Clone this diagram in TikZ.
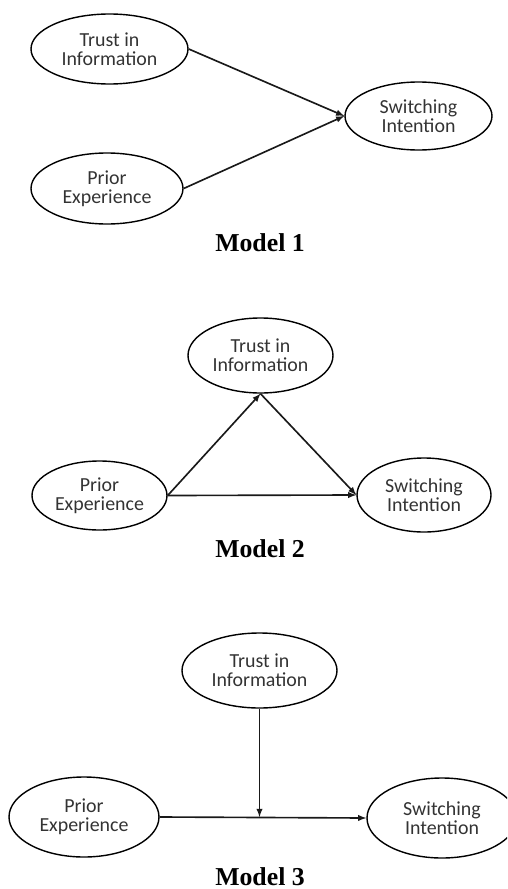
\documentclass[tikz,border=0pt]{standalone}
\usepackage{fontspec}
\setmainfont{Liberation Serif}
\newfontfamily\calibri{Carlito}
\usepackage{tikz}
\usetikzlibrary{shapes}

\tikzset{
	construct/.style={ellipse, draw=black!100, line width=1.2pt, inner sep=0pt, align=center, text=black!80, font=\calibri\fontsize{17pt}{16.5pt}\selectfont},
	path1/.style={->, line width=1.4pt, black!90},
	modelname/.style={anchor=base, font=\bfseries\fontsize{22pt}{24pt}\selectfont}
}

\begin{document}
\begin{tikzpicture}[>=latex]
			\useasboundingbox (0,0) rectangle (15.21,-26.67);
			\clip (0,0) rectangle (15.21,-26.67);

			%model 1
			\node [] at (3.285,-1.47) (trust1) [construct, minimum width=4.71cm, minimum height=2.1cm] {Trust in\\Information};
			\node [] at (3.21,-5.655) (prior1) [construct, minimum width=4.56cm, minimum height=2.13cm] {Prior\\Experience};
			\node [] at (12.555,-3.48) (switch1) [construct, minimum width=4.41cm, minimum height=2.04cm] {Switching\\Intention};
			\node [modelname] at (7.8,-7.53) (label1) {Model 1};

			\draw [path1] (trust1.east) -- (switch1.west);
			\draw [path1] (prior1.east) -- (switch1.west);

			%model 2
			\node [] at (7.815,-10.665) (trust2) [construct, minimum width=4.35cm, minimum height=2.25cm] {Trust in\\Information};
			\node [] at (2.985,-14.865) (prior2) [construct, minimum width=4.05cm, minimum height=2.07cm] {Prior\\Experience};
			\node [] at (12.72,-14.85) (switch2) [construct, minimum width=4.02cm, minimum height=2.22cm] {Switching\\Intention};
			\node [modelname] at (7.8,-16.71) (label2) {Model 2};

			\draw [path1] (prior2.east) -- (trust2.south);
			\draw [path1] (trust2.south) -- (switch2.west);
			\draw [path1] (prior2.east) -- (switch2.west);

			%model 3
			\node [] at (7.785,-20.115) (trust3) [construct, minimum width=4.65cm, minimum height=2.25cm] {Trust in\\Information};
			\node [] at (2.52,-24.51) (prior3) [construct, minimum width=4.5cm, minimum height=2.4cm] {Prior\\Experience};
			\node [] at (13.26,-24.54) (switch3) [construct, minimum width=4.5cm, minimum height=2.4cm] {Switching\\Intention};
			\node [modelname] at (7.8,-26.55) (label3) {Model 3};

			% moderator hits the middle of the main path
			\coordinate (join3) at (trust3.south |- prior3.east);
			\draw [path1] (prior3.east) -- (switch3.west);
			\draw [path1] (trust3.south) -- (join3);
		\end{tikzpicture}
\end{document}
